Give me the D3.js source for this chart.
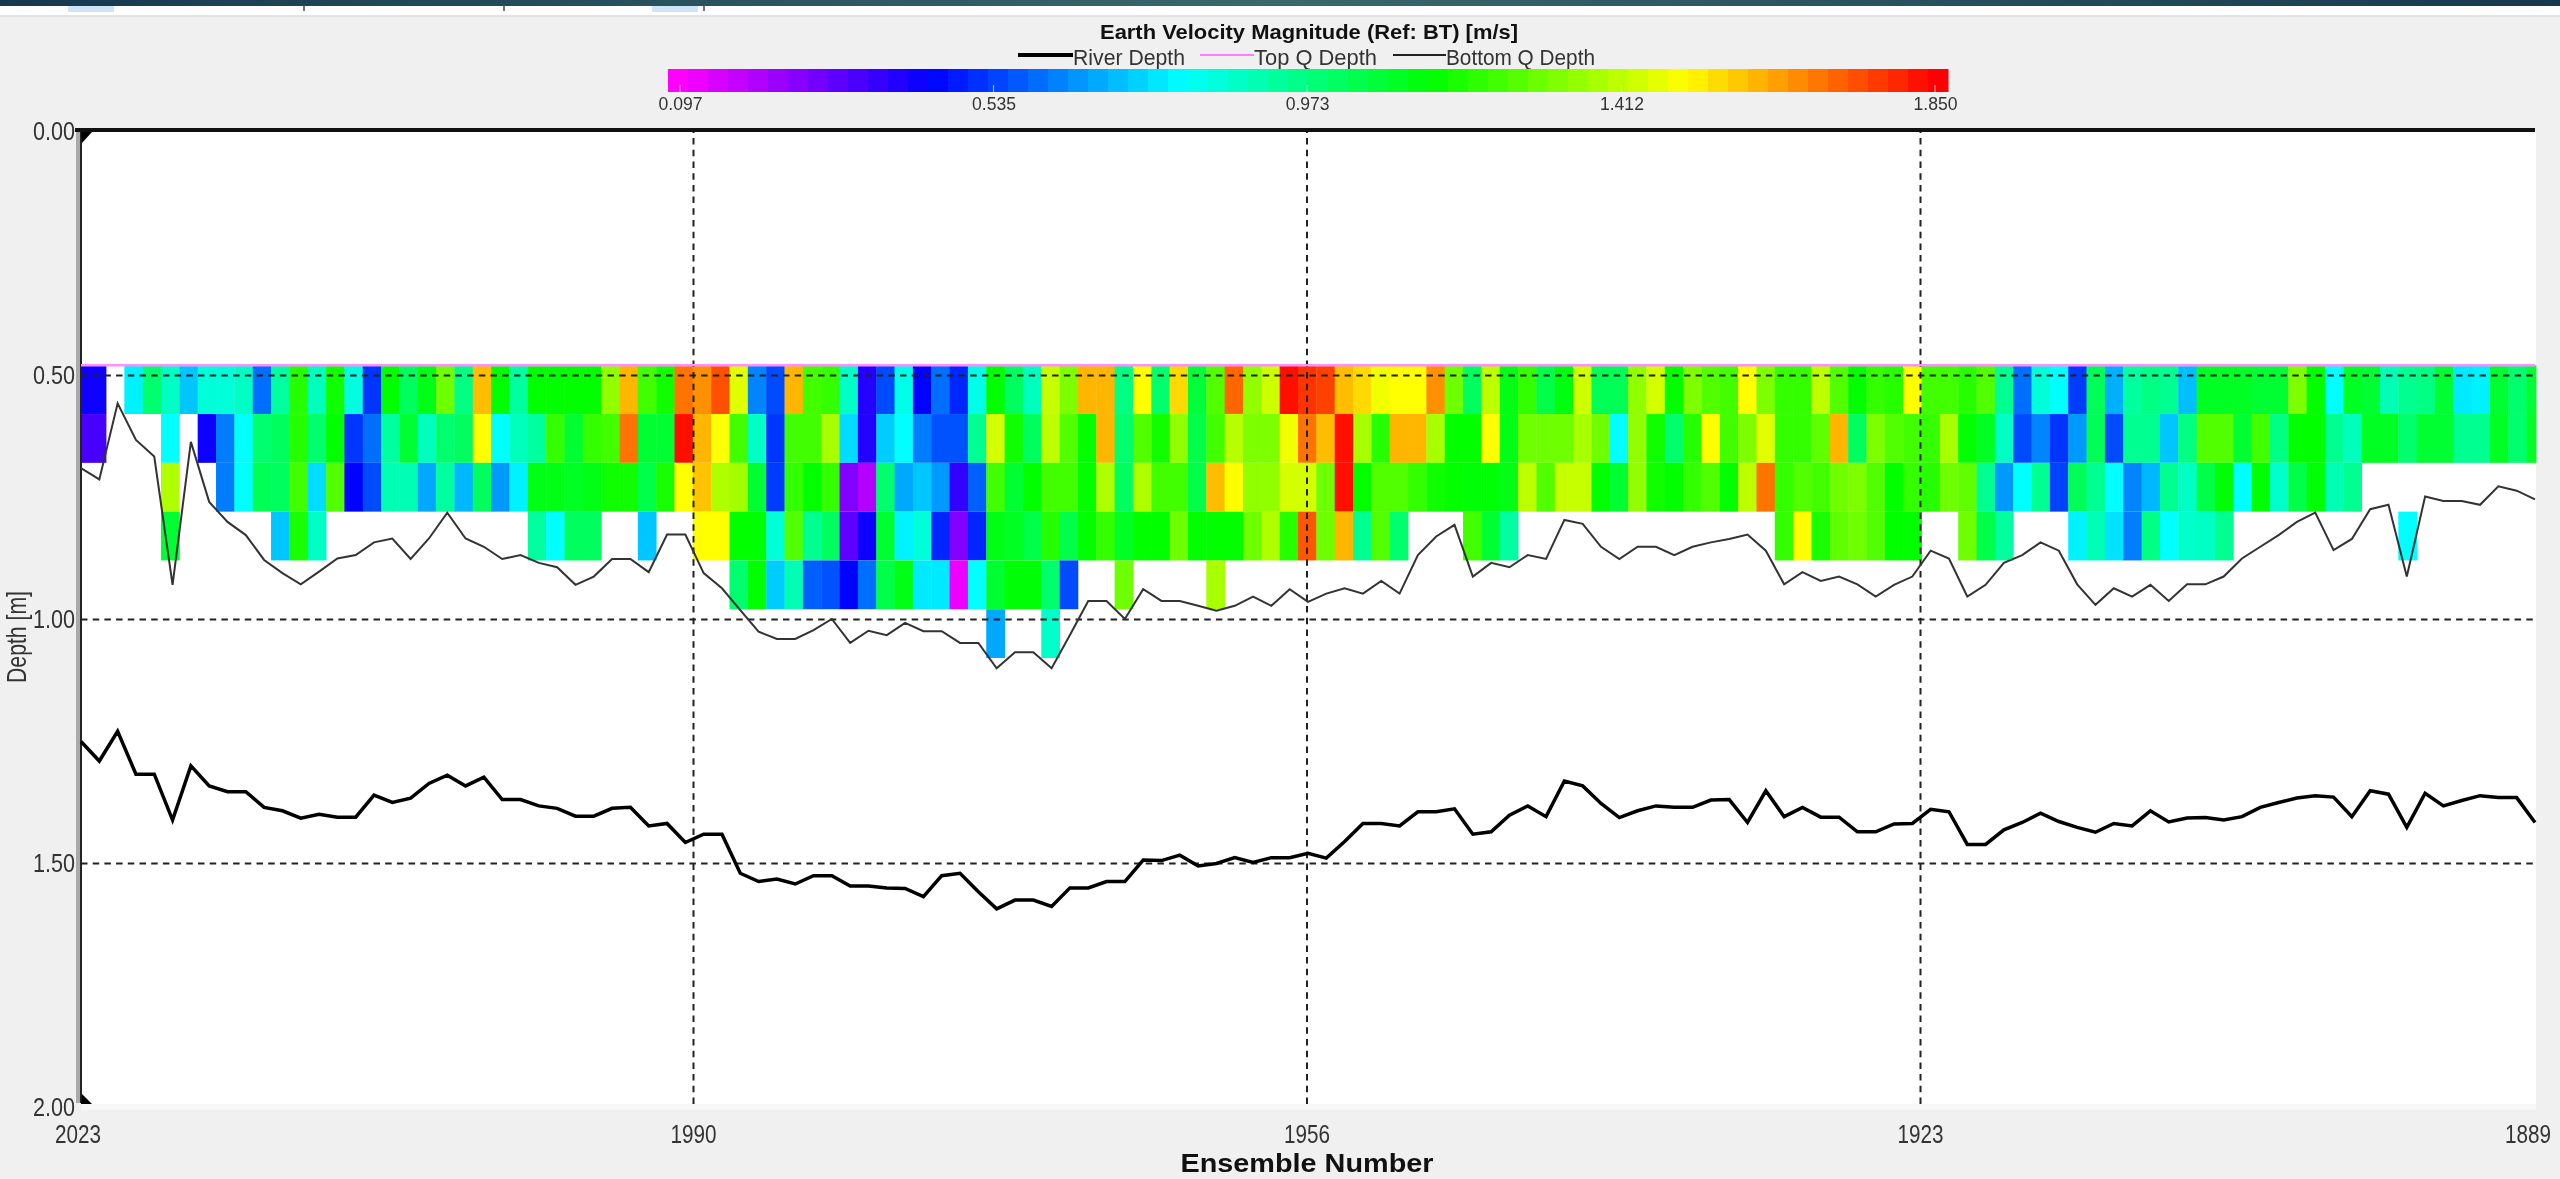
<!DOCTYPE html>
<html lang="en">
<head>
    <meta charset="UTF-8">
    <title>Earth Velocity Magnitude (Ref: BT) [m/s]</title>
    <script src="https://d3js.org/d3.v7.min.js"></script>
    <style>
        body { margin: 0; background: #f0f0f0; }
        svg { display: block; filter: blur(0.6px); }
        text { font-family: "Liberation Sans", Arial, sans-serif; fill: #333; }
    </style>
</head>
<body>
<svg height="1179" width="2560"></svg>

<script>
    const _ = null;

    const ensembles = d3.range(2023, 1888, -1);

    // river depth [m], one value per ensemble
    const riverDepth = [
        1.251,1.291,1.230,1.318,1.318,1.412,1.301,1.342,1.354,1.354,
        1.386,1.393,1.408,1.400,1.406,1.406,1.361,1.376,1.367,1.337,
        1.320,1.342,1.324,1.370,1.370,1.383,1.388,1.404,1.404,1.388,
        1.386,1.424,1.419,1.458,1.441,1.441,1.521,1.538,1.533,1.543,
        1.526,1.526,1.547,1.547,1.551,1.552,1.569,1.526,1.521,1.559,
        1.594,1.576,1.576,1.589,1.551,1.551,1.538,1.538,1.494,1.495,
        1.484,1.506,1.501,1.489,1.499,1.489,1.489,1.480,1.490,1.456,
        1.419,1.419,1.424,1.395,1.395,1.389,1.441,1.436,1.402,1.383,
        1.405,1.332,1.342,1.378,1.407,1.393,1.383,1.386,1.386,1.371,
        1.370,1.417,1.352,1.405,1.386,1.406,1.406,1.436,1.436,1.420,
        1.419,1.390,1.395,1.462,1.462,1.432,1.417,1.398,1.415,1.427,
        1.437,1.419,1.424,1.393,1.416,1.408,1.407,1.412,1.405,1.386,
        1.376,1.367,1.362,1.365,1.405,1.352,1.359,1.427,1.357,1.383,
        1.372,1.362,1.366,1.366,1.417
    ];

    const bottomQDepth = [
        .691,.714,.558,.633,.667,.930,.637,.760,.801,.828,
        .879,.906,.929,.903,.876,.869,.843,.835,.877,.835,
        .782,.835,.852,.877,.869,.885,.894,.930,.913,.877,
        .877,.904,.827,.827,.906,.937,.982,1.026,1.041,1.041,
        1.023,1.000,1.049,1.024,1.033,1.008,1.025,1.025,1.049,1.049,
        1.101,1.068,1.068,1.101,1.033,.963,.963,1.000,.939,.963,
        .963,.973,.983,.973,.954,.973,.939,.965,.948,.937,
        .948,.922,.948,.869,.831,.807,.913,.885,.894,.869,
        .877,.797,.805,.852,.877,.852,.852,.869,.852,.843,
        .836,.827,.860,.929,.904,.922,.913,.929,.954,.930,
        .913,.860,.876,.954,.930,.885,.869,.843,.860,.929,
        .971,.937,.954,.930,.963,.929,.929,.913,.876,.852,
        .828,.801,.782,.859,.836,.775,.766,.913,.749,.758,
        .758,.766,.728,.737,.755
    ];

    const topQDepth = ensembles.map(() => 0.48);

    // velocity magnitude [m/s] per depth cell, one array per bin
    const binTops = [0.48, 0.58, 0.68, 0.78, 0.88, 0.98];

    const bin0 = [
        .43,_,.78,1.0,.88,.72,.85,.85,.88,.60,
        .93,1.2,.89,1.17,.84,.52,1.15,1.02,1.12,1.30,
        .97,1.59,1.15,.93,1.15,1.15,1.15,1.15,1.35,1.60,
        1.24,1.17,1.69,1.65,1.74,1.46,.63,.55,1.60,1.24,
        1.22,.88,.40,.55,.83,.45,.60,.50,.83,1.15,
        1.02,.89,1.42,1.32,1.60,1.60,.97,1.50,1.0,1.55,
        1.07,1.26,1.71,1.35,1.43,1.83,1.78,1.76,1.59,1.55,
        1.48,1.50,1.50,1.65,1.30,1.02,1.41,1.12,1.22,1.05,
        1.13,1.43,1.03,1.03,1.35,1.44,1.15,1.32,1.26,1.24,
        1.50,1.32,1.22,1.22,1.41,1.26,1.15,1.22,1.20,1.50,
        1.24,1.24,1.20,1.26,.95,.60,.85,.80,.53,1.03,
        .69,.93,.97,.95,.71,1.10,1.10,1.10,1.08,1.08,
        1.32,1.15,.80,1.10,1.08,.90,.95,.97,1.08,.77,
        .78,1.08,1.0,1.08
    ];
    const bin1 = [
        .35,_,_,_,.80,_,.43,.62,.80,1.0,
        1.02,1.2,1.0,1.15,.52,.60,.93,1.08,.89,1.0,
        1.02,1.50,.80,.89,.93,1.22,1.08,1.22,1.24,1.69,
        1.08,1.08,1.83,1.60,1.50,1.24,.88,.52,1.24,1.24,
        1.38,.75,.40,.73,.80,.62,.56,.56,.95,1.44,
        1.17,1.02,1.41,1.26,1.15,1.60,1.0,1.26,1.17,1.35,
        1.05,1.24,1.40,1.32,1.32,1.48,1.69,1.59,1.83,1.38,
        1.20,1.60,1.60,1.38,1.15,1.15,1.50,1.12,1.30,1.30,
        1.30,1.38,1.30,.80,1.35,1.17,1.0,1.20,1.50,1.24,
        1.32,1.46,1.22,1.22,1.28,1.60,1.02,1.32,1.26,1.24,
        1.22,1.38,1.15,1.10,.88,.55,.63,.52,.66,1.03,
        .55,.95,.95,.72,.97,1.26,1.26,1.08,1.24,.97,
        1.15,1.15,.95,.89,1.10,1.10,1.0,1.08,1.08,.95,
        .95,1.10,1.0,1.10
    ];
    const bin2 = [
        _,_,_,_,1.39,_,_,.62,.80,1.03,
        1.02,1.24,.75,1.26,.45,.55,.90,.90,.68,.93,
        .70,1.02,.66,.78,1.12,1.12,1.10,1.12,1.17,1.17,
        1.05,1.18,1.50,1.58,1.39,1.37,1.08,.53,1.22,1.15,
        1.22,.27,.20,1.0,.68,.72,.66,.38,.58,1.24,
        1.08,1.15,1.24,1.24,1.15,1.39,1.02,1.39,1.24,1.24,
        1.05,1.59,1.50,1.35,1.35,1.44,1.44,1.30,1.83,1.15,
        1.26,1.26,1.22,1.17,1.15,1.14,1.14,1.12,1.41,1.26,
        1.42,1.42,1.15,1.08,1.35,1.17,1.15,1.22,1.26,1.15,
        1.41,1.69,1.22,1.26,1.24,1.30,1.32,1.26,1.15,1.22,
        1.20,1.30,1.28,.95,.66,.80,.95,.54,1.03,.95,
        .80,.63,.70,.95,.88,1.05,1.14,.80,1.15,.87,
        1.05,1.14,.90,.95
    ];
    const bin3 = [
        _,_,_,_,1.08,_,_,_,_,_,
        .72,1.18,.88,_,_,_,_,_,_,_,
        _,_,_,_,.93,.80,1.02,1.02,_,_,
        .72,_,_,1.50,1.50,1.15,1.15,.85,1.26,.95,
        1.02,.32,.43,1.08,.78,.85,.50,.27,.50,1.12,
        1.10,1.05,1.20,1.05,1.15,1.22,1.10,1.15,1.15,1.30,
        1.15,1.15,1.15,1.30,1.39,1.20,1.73,1.30,1.60,.95,
        1.26,1.0,_,_,_,1.24,1.08,.93,_,_,
        _,_,_,_,_,_,_,_,_,_,
        _,_,1.22,1.50,1.18,1.28,1.30,1.26,1.15,1.15,
        _,_,1.30,1.05,.93,_,_,_,.78,.90,
        .76,.62,.97,.80,.87,.88,.95,_,_,_,
        _,_,_,_,_,_,.80
    ];
    const bin4 = [
        _,_,_,_,_,_,_,_,_,_,
        _,_,_,_,_,_,_,_,_,_,
        _,_,_,_,_,_,_,_,_,_,
        _,_,_,_,_,1.0,1.15,.73,.90,.58,
        .56,.45,.60,1.05,1.12,.77,.77,.12,.80,1.08,
        1.14,1.14,1.0,.55,_,_,1.30,_,_,_,
        _,1.38
    ];
    const bin5 = [
        _,_,_,_,_,_,_,_,_,_,
        _,_,_,_,_,_,_,_,_,_,
        _,_,_,_,_,_,_,_,_,_,
        _,_,_,_,_,_,_,_,_,_,
        _,_,_,_,_,_,_,_,_,.68,
        _,_,.87
    ];
    const bins = [bin0, bin1, bin2, bin3, bin4, bin5];

    const yTicks = [0, 0.5, 1, 1.5, 2];
    const xTicks = [2023, 1989.5, 1956, 1922.5, 1889];
    const xTickLabels = ["2023", "1990", "1956", "1923", "1889"];
    const colorTicks = [0.097, 0.535, 0.973, 1.412, 1.850];
    const colorStops = ["#ff00ff", "#0000ff", "#00ffff", "#00ff00", "#ffff00", "#ff0000"];
    const legendNames = ["River Depth", "Top Q Depth", "Bottom Q Depth"];

    const svg = d3.select("svg");

    const plotLeft = 81, plotRight = 2535, plotTop = 131, plotBottom = 1107;

    const x = d3.scaleLinear().domain([2023, 1889]).range([plotLeft, plotRight]);
    const y = d3.scaleLinear().domain([0, 2]).range([plotTop, plotBottom]);

    // cell columns do not sit exactly on the ensemble ticks
    const colEdge = d3.scaleLinear().domain([0, 130]).range([106, 2490]);

    const color = d3.scaleLinear()
        .domain(d3.range(6).map(i => 0.097 + i * (1.85 - 0.097) / 5))
        .range(colorStops)
        .clamp(true);

    // colour bar position, the bar runs a bit past the two end ticks
    const barX = d3.scaleLinear().domain([0.097, 1.85]).range([680, 1935]);

    drawFrame();
    drawTitle();
    drawColorBar();
    drawCells();
    drawAxes();
    drawLines();

    function drawFrame() {
        const grad = svg.append("defs").append("linearGradient").attr("id", "band");
        grad.append("stop").attr("offset", "0").attr("stop-color", "#17384f");
        grad.append("stop").attr("offset", "0.5").attr("stop-color", "#3a686c");
        grad.append("stop").attr("offset", "1").attr("stop-color", "#17384f");

        svg.append("rect").attr("width", 2560).attr("height", 1179).attr("fill", "#f0f0f0");
        svg.append("rect").attr("y", 15).attr("width", 2560).attr("height", 2).attr("fill", "#e4e4e4");
        svg.append("rect").attr("y", 6).attr("width", 2560).attr("height", 9).attr("fill", "#fff");
        svg.append("rect").attr("width", 2560).attr("height", 6).attr("fill", "url(#band)");

        // bits of the toolbar above the plot
        svg.selectAll(".tool").data([68, 652]).enter().append("rect")
            .attr("x", d => d).attr("y", 6).attr("width", 46).attr("height", 6)
            .attr("fill", "#cfe4f7");
        svg.selectAll(".sep").data([303, 503, 703]).enter().append("rect")
            .attr("x", d => d).attr("y", 6).attr("width", 2).attr("height", 5)
            .attr("fill", "#777");

        svg.append("rect").attr("x", plotLeft).attr("y", 1104).attr("width", plotRight - plotLeft + 1).attr("height", 6).attr("fill", "#f7f7f7");
        svg.append("rect").attr("x", plotLeft).attr("y", plotTop).attr("width", plotRight - plotLeft + 1).attr("height", 973).attr("fill", "#fff");
    }

    function drawTitle() {
        svg.append("text")
            .attr("x", 1309).attr("y", 39)
            .attr("text-anchor", "middle")
            .attr("font-size", 21).attr("font-weight", "bold")
            .attr("textLength", 418).attr("lengthAdjust", "spacingAndGlyphs")
            .style("fill", "#111")
            .text("Earth Velocity Magnitude (Ref: BT) [m/s]");

        const lineX = [[1018, 1073], [1200, 1254], [1393, 1446]];
        const textX = [1073, 1254, 1446];
        const textLen = [112, 123, 149];
        const lineStyle = [["#000", 4], ["#ff80ff", 2], ["#222", 2]];

        legendNames.forEach((name, i) => {
            svg.append("line")
                .attr("x1", lineX[i][0]).attr("x2", lineX[i][1])
                .attr("y1", 55).attr("y2", 55)
                .attr("stroke", lineStyle[i][0])
                .attr("stroke-width", lineStyle[i][1]);
            svg.append("text")
                .attr("x", textX[i]).attr("y", 65)
                .attr("font-size", 22)
                .attr("textLength", textLen[i]).attr("lengthAdjust", "spacingAndGlyphs")
                .text(name);
        });
    }

    function drawColorBar() {
        const steps = d3.range(64);
        const stepX = d3.scaleLinear().domain([0, 64]).range([668, 1948]);

        svg.selectAll(".swatch").data(steps).enter().append("rect")
            .attr("x", d => stepX(d))
            .attr("y", 69)
            .attr("width", d => stepX(d + 1) - stepX(d) + 0.5)
            .attr("height", 23)
            .attr("fill", d => color(barX.invert(stepX(d + 0.5))));

        const axis = d3.axisBottom(barX)
            .tickValues(colorTicks)
            .tickSize(0)
            .tickPadding(5)
            .tickFormat(d3.format(".3f"));

        const g = svg.append("g").attr("transform", "translate(0,92)").call(axis);
        g.select(".domain").remove();
        g.selectAll("text")
            .attr("font-size", 18)
            .attr("textLength", 44)
            .attr("lengthAdjust", "spacingAndGlyphs")
            .style("font-family", '"Liberation Sans", Arial, sans-serif');

        svg.selectAll(".barTick").data(colorTicks).enter().append("line")
            .attr("x1", d => barX(d)).attr("x2", d => barX(d))
            .attr("y1", 85).attr("y2", 92)
            .attr("stroke", "#fff").attr("stroke-opacity", 0.7);
    }

    function drawCells() {
        const clip = v => Math.min(plotRight + 1, Math.max(plotLeft, v));

        bins.forEach((values, b) => {
            const cells = values
                .map((v, k) => ({ v: v, k: k }))
                .filter(d => d.v !== null);

            svg.append("g").selectAll("rect").data(cells).enter().append("rect")
                .attr("x", d => d.k === 0 ? plotLeft : clip(colEdge(d.k - 1)))
                .attr("y", y(binTops[b]))
                .attr("width", d => clip(colEdge(d.k)) - (d.k === 0 ? plotLeft : clip(colEdge(d.k - 1))) + 0.4)
                .attr("height", y(binTops[b] + 0.1) - y(binTops[b]))
                .attr("fill", d => color(d.v));
        });
    }

    function drawAxes() {
        const yAxis = d3.axisLeft(y)
            .tickValues(yTicks)
            .tickSize(-(plotRight - plotLeft))
            .tickPadding(6)
            .tickFormat(d3.format(".2f"));

        const gy = svg.append("g").attr("transform", `translate(${plotLeft},0)`).call(yAxis);
        gy.select(".domain").remove();

        const xAxis = d3.axisBottom(x)
            .tickValues(xTicks)
            .tickSize(-(plotBottom - plotTop))
            .tickPadding(18)
            .tickFormat((d, i) => xTickLabels[i]);

        const gx = svg.append("g").attr("transform", `translate(-1.5,${plotBottom})`).call(xAxis);
        gx.select(".domain").remove();

        [gy, gx].forEach(g => {
            g.selectAll(".tick")
                .filter((d, i) => i === 0 || i === 4)
                .select("line").remove();
            g.selectAll(".tick line")
                .attr("stroke", "#222")
                .attr("stroke-width", 2)
                .attr("stroke-dasharray", "6.5,5.2");
            g.selectAll(".tick text")
                .attr("font-size", 25)
                .attr("textLength", 42)
                .attr("lengthAdjust", "spacingAndGlyphs")
                .style("font-family", '"Liberation Sans", Arial, sans-serif');
        });
        gx.selectAll(".tick line").attr("y1", -3);
        gx.selectAll(".tick text").attr("textLength", 46);
        gx.selectAll(".tick text").filter((d, i) => i === 0).attr("dx", -2);
        // last label would run off the page if it stayed centred
        gx.selectAll(".tick text").filter((d, i) => i === 4)
            .attr("text-anchor", "end")
            .attr("dx", 17);

        // axis frame
        svg.append("rect").attr("x", 76).attr("y", plotTop - 1).attr("width", 4).attr("height", plotBottom - plotTop - 3).attr("fill", "#aaa");
        svg.append("rect").attr("x", 80).attr("y", plotTop - 1).attr("width", 2).attr("height", plotBottom - plotTop - 3).attr("fill", "#222");
        svg.append("rect").attr("x", 75).attr("y", 128).attr("width", plotRight - 75).attr("height", 4).attr("fill", "#111");

        svg.append("path").attr("d", "M81,132L92,132L82,143Z").attr("fill", "#000");
        svg.append("path").attr("d", "M81,1104L92,1104L82,1094Z").attr("fill", "#000");

        svg.append("text")
            .attr("x", 1307).attr("y", 1172)
            .attr("text-anchor", "middle")
            .attr("font-size", 26).attr("font-weight", "bold")
            .attr("textLength", 253).attr("lengthAdjust", "spacingAndGlyphs")
            .style("fill", "#111")
            .text("Ensemble Number");

        svg.append("text")
            .attr("transform", "translate(26,637) rotate(-90)")
            .attr("text-anchor", "middle")
            .attr("font-size", 28)
            .attr("textLength", 92).attr("lengthAdjust", "spacingAndGlyphs")
            .text("Depth [m]");
    }

    function drawLines() {
        const line = d3.line()
            .x((d, i) => x(ensembles[i]))
            .y(d => y(d));

        svg.append("path").datum(topQDepth)
            .attr("d", line).attr("fill", "none")
            .attr("stroke", "#ff90ff").attr("stroke-width", 2.5);

        svg.append("path").datum(bottomQDepth)
            .attr("d", line).attr("fill", "none")
            .attr("stroke", "#333").attr("stroke-width", 2);

        svg.append("path").datum(riverDepth)
            .attr("d", line).attr("fill", "none")
            .attr("stroke", "#000").attr("stroke-width", 3.5);
    }
</script>

</body>
</html>
